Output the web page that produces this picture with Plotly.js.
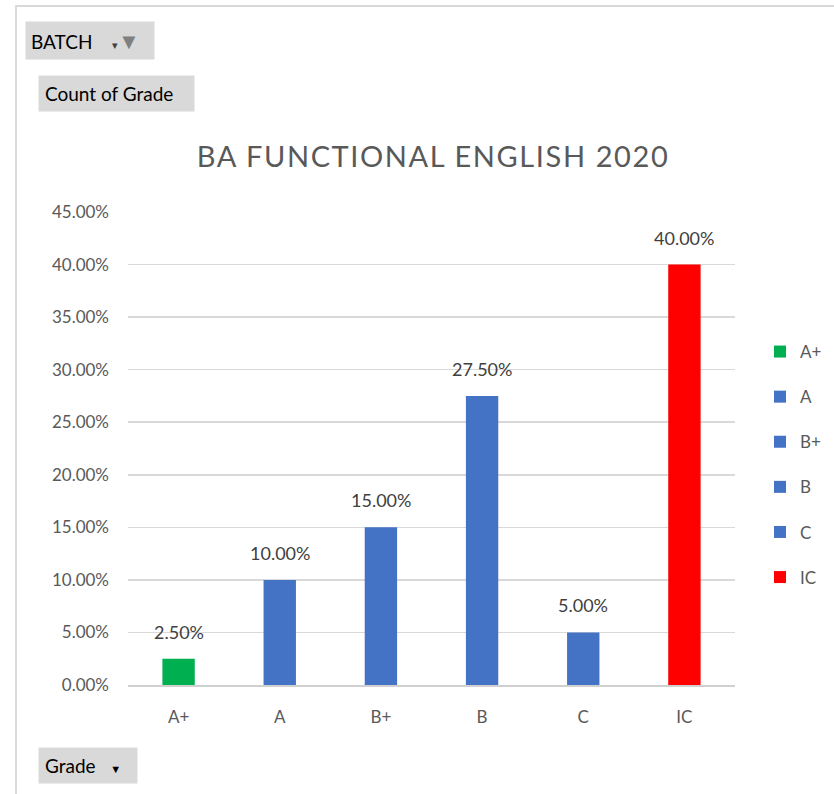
<!DOCTYPE html>
<html><head><meta charset="utf-8">
<script src="https://cdn.plot.ly/plotly-3.0.1.min.js"></script>
<style>
html,body{margin:0;padding:0;background:#fff;}
#wrap{position:relative;width:834px;height:794px;overflow:hidden;}
#frame{position:absolute;left:15px;top:5px;width:830px;height:800px;border-top:2px solid #d9d9d9;border-left:2px solid #d9d9d9;box-sizing:border-box;pointer-events:none;}
#chart{position:absolute;left:0;top:0;width:834px;height:794px;}
</style></head>
<body><div id="wrap"><div id="chart"></div><div id="frame"></div></div>
<script>
const grades = ["A+","A","B+","B","C","IC"];
const shares = [0.025,0.10,0.15,0.275,0.05,0.40];
const colors = ["#00b050","#4472c4","#4472c4","#4472c4","#4472c4","#ff0000"];
const yTicks = [0,0.05,0.10,0.15,0.20,0.25,0.30,0.35,0.40,0.45];
const font = "Lato, 'Open Sans', sans-serif";

const traces = grades.map((g,i)=>({
  type:"bar", name:g, x:[g], y:[shares[i]],
  marker:{color:colors[i]}, legendgroup:g,
  hoverinfo:"x+y"
}));

const labels = grades.map((g,i)=>({
  x:g, y:shares[i], xref:"x", yref:"y",
  text:(shares[i]*100).toFixed(2)+"%", showarrow:false,
  yanchor:"middle", yshift:27,
  font:{family:font,size:18,color:"#404040"}
}));

const btnFont = {family:font,size:19,color:"#000"};
const btnAnn = [
  {text:"BATCH &nbsp;&nbsp;&nbsp;<span style='font-size:11px;color:#404040'>▾</span><span style='color:#7f7f7f;font-size:22px'>▼</span>&nbsp;&nbsp;", xref:"paper", yref:"paper",
   x:(25-128)/607, y:(685-40)/473, xanchor:"left", yanchor:"middle", showarrow:false,
   bgcolor:"#d9d9d9", borderpad:5, font:btnFont},
  {text:"Count of Grade&nbsp;&nbsp;&nbsp;", xref:"paper", yref:"paper",
   x:(38-128)/607, y:(685-93)/473, xanchor:"left", yanchor:"middle", showarrow:false,
   bgcolor:"#d9d9d9", borderpad:6, font:btnFont},
  {text:"Grade &nbsp;&nbsp;<span style='font-size:11px'>▼</span>&nbsp;&nbsp;", xref:"paper", yref:"paper",
   x:(38-128)/607, y:(685-765)/473, xanchor:"left", yanchor:"middle", showarrow:false,
   bgcolor:"#d9d9d9", borderpad:6, font:btnFont}
];

const layout = {
  width:834, height:794,
  margin:{l:128,r:99,t:212,b:109,autoexpand:false},
  paper_bgcolor:"#fff", plot_bgcolor:"#fff",
  barmode:"relative", bargap:0.68,
  title:{text:"<span style='letter-spacing:1.6px'>BA FUNCTIONAL ENGLISH 2020</span>", x:433/834, xanchor:"center", y:1-157/794, yanchor:"middle",
         font:{family:font,size:29,color:"#595959"}},
  xaxis:{type:"category", categoryorder:"array", categoryarray:grades,
         showgrid:false, showline:true, linecolor:"#d0d0d0", linewidth:1.5,
         ticks:"", ticklabelstandoff:16,
         tickfont:{family:font,size:17,color:"#595959"}, fixedrange:true},
  yaxis:{range:[0,0.45], tickvals:yTicks, tickformat:".2%",
         showgrid:true, gridcolor:"#d9d9d9", gridwidth:1.5, zeroline:false,
         showline:false, ticks:"", ticklabelstandoff:18,
         tickfont:{family:font,size:17,color:"#595959"}, fixedrange:true},
  showlegend:true,
  legend:{x:(760-128)/607, xanchor:"left", y:(685-464.5)/473, yanchor:"middle",
          tracegroupgap:20, traceorder:"grouped",
          font:{family:font,size:17,color:"#595959"}, itemclick:false},
  annotations: labels.concat(btnAnn)
};

Plotly.newPlot("chart", traces, layout, {displayModeBar:false, staticPlot:true});
</script>
</body></html>
